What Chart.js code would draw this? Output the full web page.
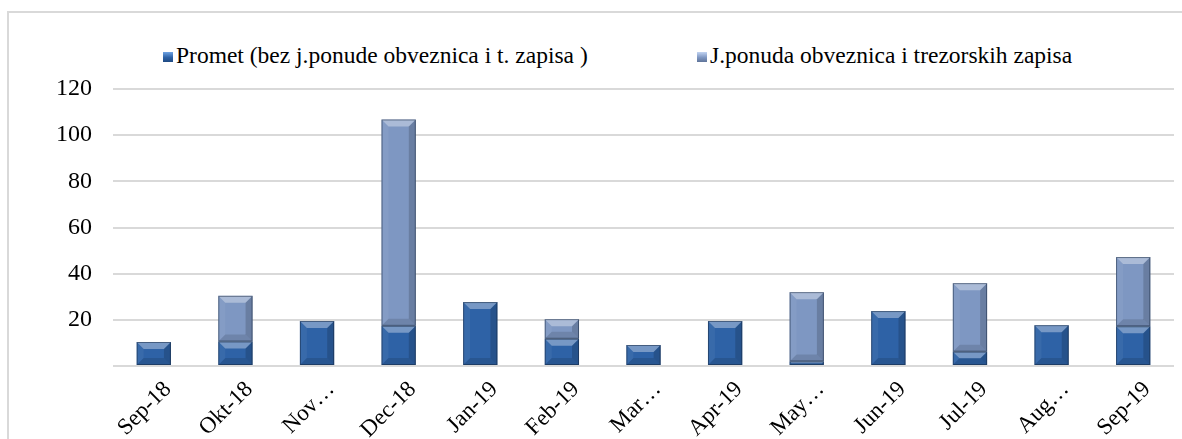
<!DOCTYPE html>
<html>
<head>
<meta charset="utf-8">
<script src="https://cdn.jsdelivr.net/npm/chart.js@4.4.0/dist/chart.umd.min.js"></script>
<style>
  html, body { margin: 0; padding: 0; background: #fff; overflow: hidden; }
  #wrap { position: relative; width: 1182px; height: 439px; }
  #frame { position: absolute; left: 7px; top: 11px; width: 1200px; height: 460px;
           border-left: 2px solid #d9d9d9; border-top: 2px solid #d9d9d9; }
  #legend { position: absolute; top: 40px; left: 0; width: 1182px; height: 30px;
            font-family: "Liberation Serif", "Times New Roman", serif; font-size: 23.5px; color: #000; }
  .item { position: absolute; top: 0; white-space: nowrap; line-height: 30px; }
  .box { display: inline-block; width: 10px; height: 10px; margin-right: 3px; vertical-align: 1px; }
  canvas { position: absolute; left: 0; top: 0; }
</style>
</head>
<body>
<div id="wrap">
  <div id="frame"></div>
  <div id="legend"></div>
  <canvas id="chart" width="1182" height="439"></canvas>
</div>
<script>
const months = ["Sep-18", "Okt-18", "Nov…", "Dec-18", "Jan-19", "Feb-19", "Mar…",
                "Apr-19", "May…", "Jun-19", "Jul-19", "Aug…", "Sep-19"];
const promet = [10.4, 10.6, 19.5, 17.4, 27.7, 11.8, 9.1, 19.5, 2.0, 23.8, 6.2, 17.7, 17.2];
const ponuda = [0, 19.8, 0, 89.4, 0, 8.5, 0, 0, 30.0, 0, 29.7, 0, 30.0];
const seriesNames = ["Promet (bez j.ponude obveznica i t. zapisa )", "J.ponuda obveznica i trezorskih zapisa"];
const yTicks = [0, 20, 40, 60, 80, 100, 120];

const COLORS = {
  dark: "rgb(46,98,166)",
  light: "rgb(126,151,194)",
  grid: "#d9d9d9"
};

// html legend (chart.js legend can't do the wide gap without huge vertical padding)
const legend = document.getElementById("legend");
const legendPos = [163, 697];
const legendGrad = [
  "linear-gradient(180deg, #6fa3e3 0%, #2e62a6 55%, #1f4a82 100%)",
  "linear-gradient(180deg, #c2d4f2 0%, #7f97c2 55%, #5f7499 100%)"
];
seriesNames.forEach((name, i) => {
  const d = document.createElement("div");
  d.className = "item";
  d.style.left = legendPos[i] + "px";
  d.innerHTML = '<span class="box" style="background:' + legendGrad[i] + '"></span>' + name;
  legend.appendChild(d);
});

// draws the bevelled look on top of each bar
const bevel = {
  id: "bevel",
  afterDatasetsDraw(chart) {
    const c = chart.ctx;
    chart.data.datasets.forEach((ds, di) => {
      const meta = chart.getDatasetMeta(di);
      meta.data.forEach(el => {
        const p = el.getProps(["x", "y", "base", "width"], true);
        const l = p.x - p.width / 2, r = p.x + p.width / 2;
        const t = Math.min(p.y, p.base), btm = Math.max(p.y, p.base);
        const h = btm - t;
        if (h < 0.5) return;
        const b = Math.min(7, h / 2, p.width / 2);
        const poly = (pts, fill) => {
          c.beginPath();
          c.moveTo(pts[0][0], pts[0][1]);
          for (let k = 1; k < pts.length; k++) c.lineTo(pts[k][0], pts[k][1]);
          c.closePath();
          c.fillStyle = fill;
          c.fill();
        };
        c.save();
        poly([[l, t], [r, t], [r - b, t + b], [l + b, t + b]], "rgba(255,255,255,0.35)");
        poly([[l, btm], [r, btm], [r - b, btm - b], [l + b, btm - b]], "rgba(0,0,0,0.12)");
        poly([[l, t], [l + b, t + b], [l + b, btm - b], [l, btm]], "rgba(255,255,255,0.05)");
        poly([[r, t], [r - b, t + b], [r - b, btm - b], [r, btm]], "rgba(0,0,0,0.16)");
        c.strokeStyle = "rgba(20,35,60,0.5)";
        c.lineWidth = 1;
        c.strokeRect(l + 0.5, t + 0.5, p.width - 1, h - 1);
        c.restore();
      });
    });
  }
};

const ctx = document.querySelector("#chart");

new Chart(ctx, {
  type: "bar",
  data: {
    labels: months,
    datasets: [
      { label: seriesNames[0], data: promet, backgroundColor: COLORS.dark },
      { label: seriesNames[1], data: ponuda, backgroundColor: COLORS.light }
    ]
  },
  options: {
    responsive: false,
    animation: false,
    devicePixelRatio: 1,
    barPercentage: 0.42,
    categoryPercentage: 1,
    layout: { padding: { top: 89, right: 8, left: 0, bottom: 0 } },
    plugins: {
      legend: { display: false },
      tooltip: { enabled: false }
    },
    scales: {
      x: {
        stacked: true,
        grid: { display: false },
        border: { display: false },
        ticks: {
          autoSkip: false,
          minRotation: 45,
          maxRotation: 45,
          labelOffset: 14,
          padding: 2,
          color: "#000",
          font: { family: "'Liberation Serif', 'Times New Roman', serif", size: 23 }
        },
        afterFit(scale) { scale.height = 73; }
      },
      y: {
        stacked: true,
        min: 0,
        max: 120,
        afterBuildTicks(scale) { scale.ticks = yTicks.map(v => ({ value: v })); },
        grid: { color: COLORS.grid, lineWidth: 2, drawTicks: false },
        border: { display: false },
        ticks: {
          padding: 21,
          color: "#000",
          font: { family: "'Liberation Serif', 'Times New Roman', serif", size: 24 },
          callback: v => (v === 0 ? "" : v)
        },
        afterFit(scale) { scale.width = 113; }
      }
    }
  },
  plugins: [bevel]
});
</script>
</body>
</html>
